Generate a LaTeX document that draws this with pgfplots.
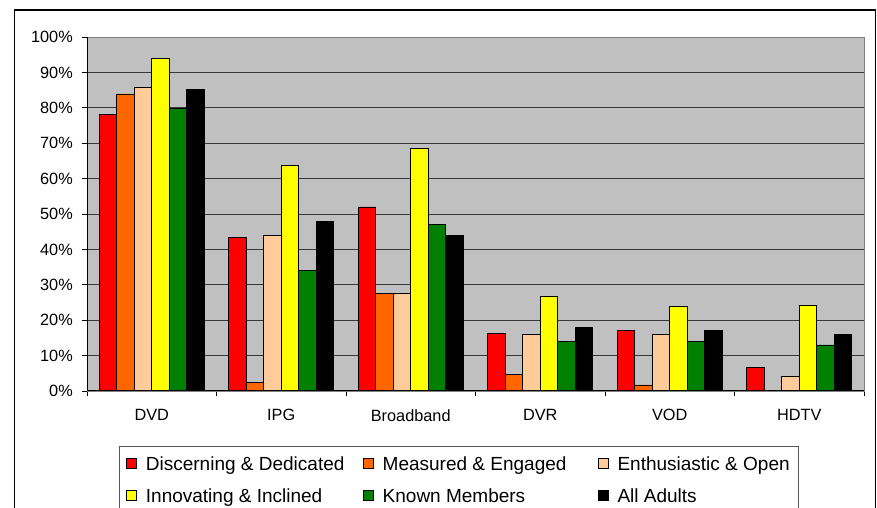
\documentclass[border=0pt]{standalone}
\usepackage{pgfplots}
\pgfplotsset{compat=1.18}
\usepackage{fontspec}
\setmainfont{Liberation Sans}
\definecolor{cRed}{HTML}{FF0000}
\definecolor{cOrange}{HTML}{FF6600}
\definecolor{cPeach}{HTML}{FFCC99}
\definecolor{cYellow}{HTML}{FFFF00}
\definecolor{cGreen}{HTML}{008000}
\definecolor{cBlack}{HTML}{000000}
\definecolor{plotgray}{HTML}{C0C0C0}
\definecolor{gridgray}{HTML}{383838}
\pgfplotsset{/pgfplots/ybar legend/.style={legend image code/.code={%
  \draw[#1,draw=black,line width=0.8pt] (0pt,-5pt) rectangle (10pt,5pt);
  \path (17pt,0pt);}}}
\begin{document}
\begin{tikzpicture}[x=1pt,y=1pt]
\useasboundingbox (0,0) rectangle (877,508);
\clip (0,0) rectangle (877,508);
\fill[white] (0,0) rectangle (877,508);
\draw[line width=1.2pt] (14.5,-10) rectangle (875.5,498);
\begin{axis}[
  at={(87pt,117pt)}, anchor=south west,
  scale only axis, width=777pt, height=354pt,
  xmin=-0.5, xmax=5.5, ymin=0, ymax=100,
  ybar=0pt, bar width=17.5pt,
  axis background/.style={fill=plotgray},
  axis line style={draw=gray, line width=0.8pt},
  ymajorgrids, grid style={draw=gridgray, line width=0.8pt},
  tick align=outside, major tick length=5pt, tick pos=left,
  tick style={black, line width=0.8pt},
  xtick={-0.5,0.5,1.5,2.5,3.5,4.5,5.5}, xticklabels={},
  extra x ticks={0,1,2,3,4,5},
  extra x tick labels={DVD,IPG,Broadband,DVR,VOD,HDTV},
  extra x tick style={major tick length=0pt, grid=none,
     xticklabel style={yshift=-15pt}},
  ytick={0,10,20,30,40,50,60,70,80,90,100},
  yticklabels={0\%,10\%,20\%,30\%,40\%,50\%,60\%,70\%,80\%,90\%,100\%},
  tick label style={font=\fontsize{16.3}{19}\selectfont},
  yticklabel style={anchor=east, inner sep=0pt, xshift=-9pt},
  legend columns=3,
  legend style={at={(0.0416,-0.1545)}, anchor=north west,
     draw=gray!70!black, line width=0.8pt,
     inner xsep=6.4pt, inner ysep=4.95pt, row sep=7.3pt,
     cells={anchor=west},
     nodes={inner sep=2pt, text height=17pt, text depth=3.7pt,
            font=\fontsize{19}{22}\selectfont}},
  every axis plot/.append style={draw=black, line width=0.8pt},
]
\addplot[fill=cRed] coordinates {(0,78) (1,43.3) (2,52) (3,16.3) (4,17) (5,6.6)};
\addplot[fill=cOrange] coordinates {(0,83.9) (1,2.5) (2,27.5) (3,4.7) (4,1.7) (5,0)};
\addplot[fill=cPeach] coordinates {(0,85.8) (1,44) (2,27.5) (3,16) (4,16) (5,4)};
\addplot[fill=cYellow] coordinates {(0,94) (1,63.6) (2,68.6) (3,26.8) (4,23.8) (5,24.2)};
\addplot[fill=cGreen] coordinates {(0,79.9) (1,34) (2,47) (3,14) (4,14) (5,13)};
\addplot[fill=cBlack] coordinates {(0,85.2) (1,48) (2,44) (3,18) (4,17) (5,16)};
\addlegendentry{\makebox[215pt][l]{Discerning \& Dedicated}}
\addlegendentry{\makebox[213pt][l]{Measured \& Engaged}}
\addlegendentry{Enthusiastic \& Open}
\addlegendentry{Innovating \& Inclined}
\addlegendentry{Known Members}
\addlegendentry{All Adults}
\draw[black, line width=1pt] (rel axis cs:0,1) -- (rel axis cs:0,0) -- (rel axis cs:1,0);
\end{axis}
\end{tikzpicture}
\end{document}
